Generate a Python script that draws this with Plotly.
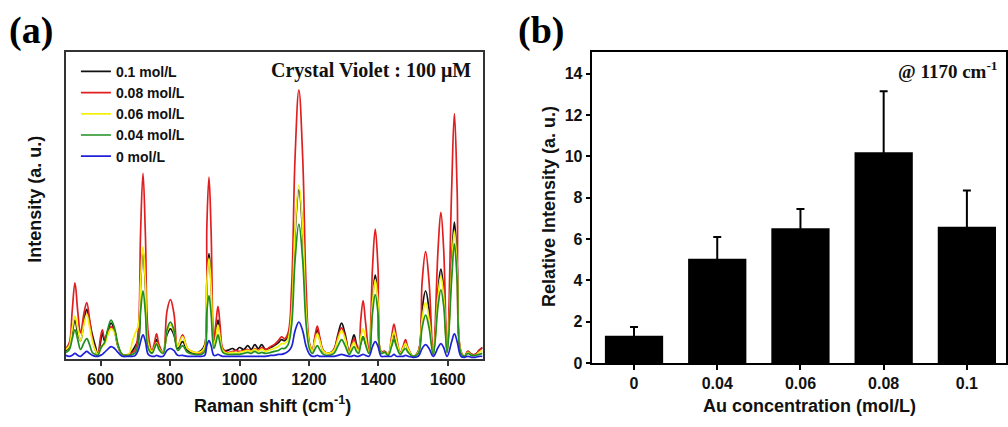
import plotly.graph_objects as go

# ---------------- Panel (a): SERS spectra ----------------
raman_shift = [500, 510, 518, 526, 534, 542, 552, 560, 568, 576, 585, 592, 599, 605, 611, 620, 630, 640, 650, 662,
               680, 692, 700, 709, 715, 722, 729, 737, 748, 755, 761, 768, 780, 791, 801, 811, 822, 836, 850, 870,
               890, 900, 906, 912, 918, 926, 932, 938, 944, 952, 965, 980, 990, 1000, 1012, 1024, 1034, 1044, 1054, 1064,
               1075, 1090, 1100, 1112, 1121, 1130, 1140, 1150, 1160, 1171, 1182, 1192, 1202, 1210, 1217, 1224, 1231, 1242, 1258, 1272,
               1284, 1294, 1304, 1316, 1323, 1330, 1337, 1343, 1349, 1356, 1363, 1373, 1383, 1391, 1399, 1408, 1418, 1428, 1438, 1445,
               1452, 1463, 1472, 1478, 1486, 1500, 1515, 1526, 1536, 1546, 1558, 1572, 1580, 1588, 1598, 1611, 1619, 1627, 1638, 1648,
               1658, 1668, 1680, 1690, 1700]

int_01 = [8, 12, 26, 39, 26, 18, 38, 50, 38, 24, 12, 4, 15, 26, 18, 27, 36, 28, 12, 4,
          3, 8, 13, 20, 76, 110, 74, 16, 6, 13, 19, 11, 6, 24, 30, 24, 10, 17, 8, 5,
          8, 14, 80, 107, 78, 16, 27, 39, 25, 8, 8, 10, 8, 11, 9, 13, 9, 14, 10, 14,
          9, 11, 13, 16, 19, 18, 22, 45, 128, 172, 128, 45, 13, 8, 20, 29, 20, 7, 5, 9,
          25, 36, 25, 6, 16, 24, 14, 8, 15, 22, 15, 7, 60, 85, 60, 6, 7, 4, 16, 24,
          15, 5, 11, 15, 9, 2, 7, 50, 69, 50, 4, 70, 91, 70, 6, 98, 139, 96, 6, 2,
          7, 4, 4, 8, 11]

int_008 = [10, 16, 48, 77, 48, 26, 46, 57, 40, 20, 8, 4, 20, 29, 21, 25, 32, 28, 13, 4,
           4, 6, 9, 32, 128, 189, 125, 26, 8, 16, 25, 14, 6, 48, 60, 46, 12, 24, 10, 6,
           6, 12, 136, 185, 132, 20, 36, 53, 34, 10, 6, 7, 8, 7, 8, 9, 7, 10, 8, 11,
           9, 12, 14, 18, 22, 20, 26, 72, 205, 274, 205, 72, 15, 9, 22, 33, 22, 8, 5, 9,
           23, 31, 22, 6, 14, 20, 12, 10, 38, 59, 37, 8, 92, 132, 92, 7, 7, 4, 22, 35,
           22, 6, 13, 19, 10, 2, 7, 78, 109, 78, 5, 112, 149, 112, 7, 172, 250, 170, 7, 2,
           7, 4, 4, 8, 11]

int_006 = [9, 13, 30, 43, 30, 18, 35, 45, 32, 18, 8, 4, 9, 13, 14, 23, 30, 26, 13, 4,
           4, 18, 26, 34, 78, 114, 76, 15, 7, 11, 16, 10, 6, 27, 34, 27, 12, 22, 10, 6,
           7, 12, 76, 102, 74, 14, 22, 34, 21, 8, 5, 6, 5, 6, 7, 8, 7, 9, 7, 9,
           7, 9, 10, 12, 15, 15, 20, 46, 132, 177, 132, 46, 13, 8, 18, 25, 18, 7, 5, 8,
           20, 28, 20, 5, 12, 16, 10, 8, 21, 30, 20, 6, 56, 80, 56, 6, 6, 4, 18, 27,
           18, 5, 11, 15, 9, 2, 6, 40, 57, 40, 4, 64, 84, 64, 6, 90, 130, 88, 6, 2,
           6, 3, 3, 6, 8]

int_004 = [6, 9, 20, 29, 19, 9, 16, 20, 14, 6, 4, 3, 9, 13, 16, 29, 39, 31, 14, 4,
           3, 4, 6, 16, 47, 69, 46, 10, 5, 10, 15, 9, 5, 29, 37, 29, 8, 13, 6, 4,
           4, 7, 48, 64, 46, 10, 16, 24, 15, 6, 4, 4, 4, 4, 5, 6, 5, 7, 5, 6,
           5, 6, 7, 8, 10, 10, 14, 34, 100, 137, 100, 34, 9, 5, 9, 13, 9, 4, 3, 5,
           13, 19, 13, 4, 8, 12, 7, 5, 14, 22, 14, 5, 46, 65, 46, 5, 6, 3, 12, 19,
           12, 4, 8, 10, 6, 2, 5, 31, 44, 31, 4, 54, 70, 54, 6, 80, 117, 79, 5, 2,
           5, 3, 3, 4, 5]

int_0 = [3, 2, 3, 5, 3, 2, 5, 7, 5, 3, 2, 2, 3, 4, 6, 9, 12, 10, 6, 2,
         2, 2, 3, 9, 17, 24, 17, 4, 2, 2, 3, 2, 2, 8, 10, 8, 3, 3, 2, 2,
         2, 3, 13, 18, 13, 3, 3, 4, 3, 2, 2, 2, 2, 2, 2, 2, 2, 2, 2, 2,
         2, 3, 3, 4, 4, 5, 7, 12, 28, 37, 28, 12, 4, 2, 2, 3, 2, 2, 2, 2,
         3, 4, 3, 2, 2, 3, 2, 2, 3, 4, 3, 2, 12, 17, 12, 2, 2, 2, 2, 4,
         2, 2, 2, 3, 2, 1, 2, 10, 14, 10, 2, 11, 15, 11, 2, 17, 25, 17, 2, 1,
         2, 1, 1, 2, 2]

series_names = ["0.1 mol/L", "0.08 mol/L", "0.06 mol/L", "0.04 mol/L", "0 mol/L"]
series_values = [int_01, int_008, int_006, int_004, int_0]
series_colors = ["#111111", "#e02020", "#f2f20a", "#1f8f1f", "#2020d8"]
raman_ticks = [600, 800, 1000, 1200, 1400, 1600]

# ---------------- Panel (b): relative intensity bars ----------------
au_conc = ["0", "0.04", "0.06", "0.08", "0.1"]
rel_intensity = [1.33, 5.05, 6.52, 10.2, 6.6]
rel_error = [0.42, 1.05, 0.93, 2.95, 1.75]
rel_ticks = [0, 2, 4, 6, 8, 10, 12, 14]

W, H = 1008, 427
SANS = "Arial, Liberation Sans, Helvetica, sans-serif"
SERIF = "Times New Roman, Liberation Serif, serif"

def px(x):
    return x / W

def py(y):
    return 1 - y / H

fig = go.Figure()

for name, vals, col in zip(series_names, series_values, series_colors):
    fig.add_trace(go.Scatter(
        x=raman_shift, y=vals, name=name, mode="lines",
        line=dict(color=col, width=1.7, shape="spline", smoothing=1.1),
        xaxis="x", yaxis="y", showlegend=True,
    ))

fig.add_trace(go.Bar(
    x=au_conc, y=rel_intensity, width=0.7,
    marker=dict(color="black", line=dict(width=0)),
    error_y=dict(type="data", array=rel_error, symmetric=True,
                 color="black", thickness=2, width=4),
    xaxis="x2", yaxis="y2", showlegend=False,
))

frame = "#333333"
tickfont = dict(family=SANS, size=16, color="#111", weight="bold")

fig.update_layout(
    width=W, height=H,
    margin=dict(l=0, r=0, t=0, b=0),
    paper_bgcolor="white", plot_bgcolor="white",
    xaxis=dict(domain=[px(66), px(483)], range=[500, 1700],
               tickvals=raman_ticks, ticks="outside", ticklen=5, tickwidth=1.5,
               tickcolor=frame, showline=True, linecolor=frame, linewidth=1.5,
               mirror=True, showgrid=False, zeroline=False, tickfont=tickfont,
               anchor="y"),
    yaxis=dict(domain=[py(367), py(53)], range=[-1, 313],
               showticklabels=False, ticks="", showline=True, linecolor=frame,
               linewidth=1.5, mirror=True, showgrid=False, zeroline=False,
               anchor="x"),
    xaxis2=dict(domain=[px(593), px(1007)], type="category", range=[-0.5, 4.47],
                ticks="outside", ticklen=5, tickwidth=1.5, tickcolor="black",
                showline=True, linecolor="black", linewidth=1.5, mirror=True,
                showgrid=False, zeroline=False, tickfont=tickfont, anchor="y2"),
    yaxis2=dict(domain=[py(371), py(53)], range=[0, 15.05],
                tickvals=rel_ticks, ticks="outside", ticklen=5, tickwidth=1.5,
                tickcolor="black", showline=True, linecolor="black", linewidth=1.5,
                mirror=True, showgrid=False, zeroline=False, tickfont=tickfont,
                anchor="x2"),
    legend=dict(x=px(76), y=py(57), xanchor="left", yanchor="top",
                bgcolor="rgba(0,0,0,0)", borderwidth=0,
                font=dict(family=SANS, size=14, color="#111", weight="bold"),
                tracegroupgap=0),
    bargap=0.3,
)

ann = [
    dict(text="(a)", x=px(31), y=py(31), font=dict(family=SERIF, size=38, color="black", weight="bold")),
    dict(text="(b)", x=px(542), y=py(31), font=dict(family=SERIF, size=38, color="black", weight="bold")),
    dict(text="Crystal Violet : 100 μM", x=px(473), y=py(72), xanchor="right",
         font=dict(family=SERIF, size=20, color="#111", weight="bold")),
    dict(text="@ 1170 cm<sup>-1</sup>", x=px(1000), y=py(72), xanchor="right",
         font=dict(family=SERIF, size=19, color="#111", weight="bold")),
    dict(text="Intensity (a. u.)", x=px(35), y=py(203), textangle=-90,
         font=dict(family=SANS, size=18, color="#111", weight="bold")),
    dict(text="Raman shift (cm<sup>-1</sup>)", x=px(273), y=py(413),
         font=dict(family=SANS, size=18, color="#111", weight="bold")),
    dict(text="Relative Intensity (a. u.)", x=px(549), y=py(211), textangle=-90,
         font=dict(family=SANS, size=18, color="#111", weight="bold")),
    dict(text="Au concentration (mol/L)", x=px(810), y=py(415),
         font=dict(family=SANS, size=18, color="#111", weight="bold")),
]
for a in ann:
    a.setdefault("xanchor", "center")
    fig.add_annotation(xref="paper", yref="paper", showarrow=False, yanchor="middle", **a)

fig.write_html("out.html")
